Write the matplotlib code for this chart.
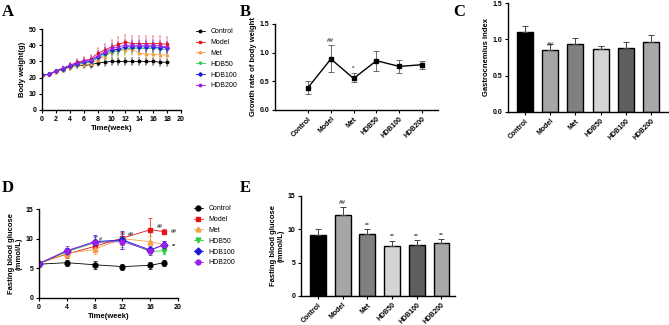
import numpy as np
import matplotlib
matplotlib.use("Agg")
import matplotlib.pyplot as plt

plt.rcParams['font.family'] = ['Liberation Sans', 'DejaVu Sans']
plt.rcParams['font.weight'] = 'bold'
plt.rcParams['axes.linewidth'] = 1.0

groups = ['Control', 'Model', 'Met', 'HDB50', 'HDB100', 'HDB200']
line_colors = ['#000000', '#e8141c', '#f5a040', '#2ecc40', '#1a1adf', '#9b1fe8']
line_markers = ['o', 's', '^', 'v', 'D', 'o']

# A: body weight per week
weeks = np.arange(0, 19)
bw = {
    'Control': [21.5, 22, 24, 25, 26.5, 27.5, 27.5, 28, 29, 29.5, 30, 30, 30, 30, 30, 30, 30, 29.5, 29.5],
    'Model':   [21.5, 22, 24, 25.5, 27.5, 29.5, 30.5, 31.5, 35, 37, 39, 40.5, 42, 41, 41, 41, 41, 41, 40.5],
    'Met':     [21.5, 22, 23.5, 25, 26.5, 27.5, 28, 28.5, 31, 33, 35.5, 37, 37, 37.5, 35, 34.5, 34.5, 34, 34],
    'HDB50':   [21.5, 22, 24, 25, 27, 28, 29, 29.5, 32, 34, 36, 36.5, 38, 38, 38, 38, 38, 37.5, 37.5],
    'HDB100':  [21.5, 22, 24, 25.5, 27, 28.5, 29.5, 30, 33, 35, 37, 37.5, 39, 39, 39, 39, 39, 38.5, 38.5],
    'HDB200':  [21.5, 22, 24, 26, 27.5, 29, 30, 31, 33.5, 36, 38, 39, 40, 40, 40, 40, 40, 39.5, 39],
}
bw_err = {
    'Control': [0.5, 0.8, 1, 1.2, 1.5, 1.5, 1.8, 2, 2, 2.2, 2.2, 2.2, 2.2, 2.2, 2.2, 2.2, 2.2, 2.2, 2.2],
    'Model':   [0.5, 0.8, 1, 1.2, 1.5, 1.8, 2, 2.2, 3, 3.5, 4, 4.5, 4.5, 4.5, 4.5, 4.5, 4.5, 4.5, 4.5],
    'Met':     [0.5, 0.8, 1, 1.2, 1.5, 1.8, 2, 2.2, 2.8, 3.2, 3.5, 3.5, 3.5, 3.5, 3.5, 3.5, 3.5, 3.5, 3.5],
    'HDB50':   [0.5, 0.8, 1, 1.2, 1.5, 1.8, 2, 2.2, 2.8, 3, 3.2, 3.2, 3.2, 3.2, 3.2, 3.2, 3.2, 3.2, 3.2],
    'HDB100':  [0.5, 0.8, 1, 1.2, 1.5, 1.8, 2, 2.2, 2.8, 3, 3.2, 3.2, 3.2, 3.2, 3.2, 3.2, 3.2, 3.2, 3.2],
    'HDB200':  [0.5, 0.8, 1, 1.2, 1.5, 1.8, 2, 2.2, 2.8, 3, 3.2, 3.2, 3.2, 3.2, 3.2, 3.2, 3.2, 3.2, 3.2],
}

# B: growth rate
gr = [0.39, 0.89, 0.55, 0.86, 0.76, 0.79]
gr_lo = [0.11, 0.22, 0.06, 0.18, 0.11, 0.07]
gr_hi = [0.12, 0.24, 0.09, 0.17, 0.11, 0.07]
gr_marks = ['', '##', '*', '', '', '']

# C: gastrocnemius index
gi = [1.105, 0.85, 0.935, 0.87, 0.88, 0.97]
gi_err = [0.085, 0.09, 0.085, 0.04, 0.09, 0.09]
gi_marks = ['', '##', '', '', '', '']
bar_colors = ['#000000', '#a6a6a6', '#808080', '#d4d4d4', '#5f5f5f', '#a8a8a8']

# D: fasting blood glucose over time
fbg_weeks = [0, 4, 8, 12, 16, 18]
fbg = {
    'Control': [5.7, 5.95, 5.6, 5.3, 5.5, 5.95],
    'Model':   [5.9, 7.4, 8.7, 10.1, 11.5, 11.2],
    'Met':     [5.8, 7.5, 8.2, 10.0, 9.5, 9.0],
    'HDB50':   [5.8, 7.8, 9.3, 9.8, 7.8, 8.0],
    'HDB100':  [5.8, 7.9, 9.5, 9.8, 8.1, 9.0],
    'HDB200':  [5.8, 8.0, 9.4, 9.5, 8.0, 9.0],
}
fbg_err = {
    'Control': [0.4, 0.5, 0.7, 0.5, 0.6, 0.5],
    'Model':   [0.4, 0.6, 0.9, 1.1, 1.9, 0.4],
    'Met':     [0.4, 0.6, 0.8, 1.0, 1.0, 0.6],
    'HDB50':   [0.4, 0.6, 0.9, 1.2, 0.6, 0.6],
    'HDB100':  [0.4, 0.6, 1.1, 1.5, 0.5, 0.6],
    'HDB200':  [0.4, 0.8, 1.0, 1.3, 0.7, 0.6],
}

# E: fasting blood glucose at end
fe = [9.2, 12.1, 9.3, 7.5, 7.6, 7.9]
fe_err = [0.8, 1.3, 0.7, 0.8, 0.8, 0.6]
fe_marks = ['', '##', '**', '**', '**', '**']

W, H = 669, 325
fig = plt.figure(figsize=(W / 100, H / 100), dpi=100)


def box(l, t, r, b):
    return [l / W, 1 - b / H, (r - l) / W, (b - t) / H]


def style(ax):
    for s in ['top', 'right']:
        ax.spines[s].set_visible(False)
    ax.tick_params(labelsize=5, width=0.8, length=2.5, pad=1.5)
    for lab in ax.get_xticklabels() + ax.get_yticklabels():
        lab.set_fontweight('bold')


leg_kw = dict(frameon=False, prop={'size': 5, 'weight': 'normal'},
              handlelength=1.2, labelspacing=0.55, handletextpad=0.8)

# Panel A
axA = fig.add_axes(box(42, 29, 181, 110))
handlesA = []
for g, c, m in zip(groups, line_colors, line_markers):
    eb = axA.errorbar(weeks, bw[g], yerr=bw_err[g], color=c, marker=m, ms=1.8,
                      lw=0.6, elinewidth=0.35, capsize=1, capthick=0.35, label=g)
    handlesA.append(eb[0])
axA.set_xlim(0, 20)
axA.set_ylim(0, 50)
axA.set_xticks(range(0, 21, 2))
axA.set_yticks(range(0, 51, 10))
axA.set_xlabel('Time(week)', fontsize=5.5, fontweight='bold', labelpad=2)
axA.set_ylabel('Body weight(g)', fontsize=5.5, fontweight='bold', labelpad=2)
style(axA)
axA.legend(handlesA, groups, loc='upper left', bbox_to_anchor=(190 / W, 1 - 22 / H),
           bbox_transform=fig.transFigure, **leg_kw)

# Panel B
axB = fig.add_axes(box(275, 24, 438, 110))
xb = np.arange(len(groups))
axB.errorbar(xb, gr, yerr=[gr_lo, gr_hi], color='black', marker='s', ms=3.5,
             lw=1.0, elinewidth=0.6, ecolor='#555555', capsize=2, capthick=0.6)
for x, v, hi, t in zip(xb, gr, gr_hi, gr_marks):
    if t:
        axB.text(x, v + hi + 0.04, t, ha='center', va='bottom', fontsize=4.5, color='#444444')
axB.set_xlim(-1.45, 5.7)
axB.set_ylim(0, 1.5)
axB.set_yticks([0, 0.5, 1.0, 1.5])
axB.set_xticks(xb)
axB.set_xticklabels(groups, rotation=45, ha='right', rotation_mode='anchor')
axB.set_ylabel('Growth rate of body weight', fontsize=5.5, fontweight='bold', labelpad=2)
style(axB)

# Panel C
axC = fig.add_axes(box(508, 3, 668, 112))
axC.bar(xb, gi, width=0.64, color=bar_colors, edgecolor='black', linewidth=1.0)
axC.errorbar(xb, gi, yerr=[np.zeros(6), gi_err], fmt='none', ecolor='#444444',
             elinewidth=0.7, capsize=2.2, capthick=0.7)
for x, v, e, t in zip(xb, gi, gi_err, gi_marks):
    if t:
        axC.text(x, v + 0.04, t, ha='center', va='bottom', fontsize=4.5, color='#444444')
axC.set_xlim(-0.68, 5.68)
axC.set_ylim(0, 1.5)
axC.set_yticks([0, 0.5, 1.0, 1.5])
axC.set_xticks(xb)
axC.set_xticklabels(groups, rotation=45, ha='right', rotation_mode='anchor')
axC.set_ylabel('Gastrocnemius index', fontsize=5.5, fontweight='bold', labelpad=2)
style(axC)

# Panel D
axD = fig.add_axes(box(39, 209, 178, 298))
handlesD = []
for g, c, m in zip(groups, line_colors, line_markers):
    eb = axD.errorbar(fbg_weeks, fbg[g], yerr=fbg_err[g], color=c, marker=m, ms=3.5,
                      lw=0.6, elinewidth=0.5, capsize=1.5, capthick=0.5, label=g)
    handlesD.append(eb[0])
for x, y, t in [(8.6, 9.9, '#'), (12.8, 10.7, '##'), (17.0, 12.1, '##'),
                (19.0, 11.2, '##'), (19.2, 8.7, '**')]:
    axD.text(x, y, t, fontsize=4, color='#444444', ha='left', va='center')
axD.set_xlim(0, 20)
axD.set_ylim(0, 15)
axD.set_xticks(range(0, 21, 4))
axD.set_yticks([0, 5, 10, 15])
axD.set_xlabel('Time(week)', fontsize=5.5, fontweight='bold', labelpad=2)
axD.set_ylabel('Fasting blood glucose\n(mmol/L)', fontsize=5.5, fontweight='bold', labelpad=2)
style(axD)
axD.legend(handlesD, groups, loc='upper left', bbox_to_anchor=(188 / W, 1 - 199 / H),
           bbox_transform=fig.transFigure, **leg_kw)

# Panel E
axE = fig.add_axes(box(301, 196, 455, 296))
axE.bar(xb, fe, width=0.64, color=bar_colors, edgecolor='black', linewidth=1.0)
axE.errorbar(xb, fe, yerr=[np.zeros(6), fe_err], fmt='none', ecolor='#444444',
             elinewidth=0.7, capsize=2.2, capthick=0.7)
for x, v, e, t in zip(xb, fe, fe_err, fe_marks):
    if t:
        axE.text(x, v + e + 0.2, t, ha='center', va='bottom', fontsize=4.5, color='#444444')
axE.set_xlim(-0.69, 5.55)
axE.set_ylim(0, 15)
axE.set_yticks([0, 5, 10, 15])
axE.set_xticks(xb)
axE.set_xticklabels(groups, rotation=45, ha='right', rotation_mode='anchor')
axE.set_ylabel('Fasting blood glucose\n(mmol/L)', fontsize=5.5, fontweight='bold', labelpad=2)
style(axE)

# panel letters
for x, y, t in [(2, 4, 'A'), (240, 4, 'B'), (453, 4, 'C'), (2, 180, 'D'), (240, 180, 'E')]:
    fig.text(x / W, 1 - y / H, t, fontsize=12, fontweight='bold',
             family='Liberation Serif', ha='left', va='top')

fig.savefig('out.png', dpi=100)
